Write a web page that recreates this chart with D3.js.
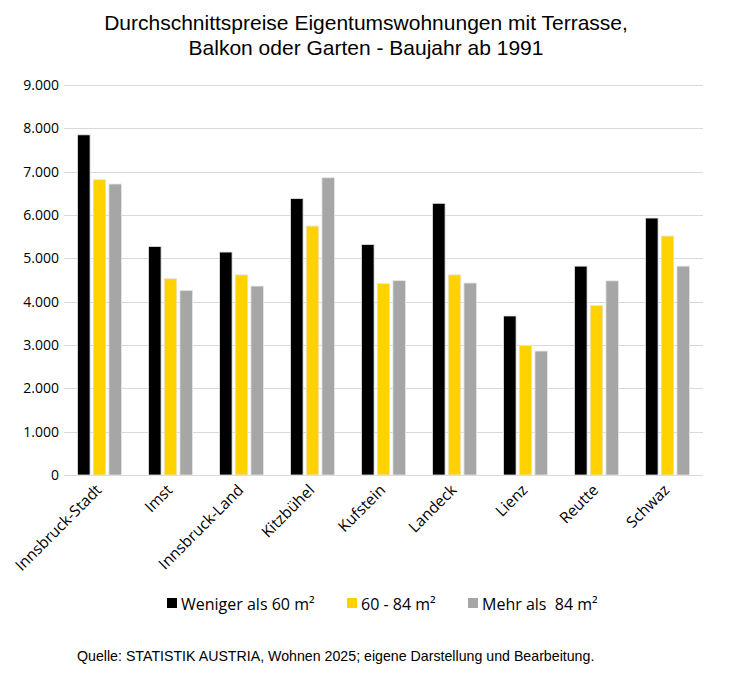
<!DOCTYPE html>
<html>
<head>
<meta charset="utf-8">
<script src="https://cdn.jsdelivr.net/npm/d3@7"></script>
<style>
    body { margin: 0; background: #fff; }
    .axis text { font-family: "Open Sans", sans-serif; fill: #000; }
    .axis path { display: none; }
</style>
</head>
<body>
<div id="chart"></div>
<script>
// Data
const districts = ["Innsbruck-Stadt", "Imst", "Innsbruck-Land", "Kitzbühel", "Kufstein", "Landeck", "Lienz", "Reutte", "Schwaz"];
const seriesNames = ["Weniger als 60 m²", "60 - 84 m²", "Mehr als  84 m²"];
const under60 = [7850, 5275, 5145, 6380, 5320, 6270, 3670, 4820, 5930];
const from60to84 = [6815, 4530, 4620, 5745, 4420, 4620, 2990, 3910, 5515];
const over84 = [6715, 4260, 4360, 6860, 4485, 4430, 2860, 4480, 4820];
const yTicks = [0, 1000, 2000, 3000, 4000, 5000, 6000, 7000, 8000, 9000];
const colours = ["#000000", "#ffd200", "#a6a6a6"];

const totalWidth = 734, totalHeight = 682;
const margin = {top: 85, right: 31, bottom: 207, left: 64};
const width = totalWidth - margin.left - margin.right;
const height = totalHeight - margin.top - margin.bottom;

const svg = d3.select("#chart").append("svg")
    .attr("width", totalWidth)
    .attr("height", totalHeight);

// Title
const title = svg.append("text")
    .attr("text-anchor", "middle")
    .style("font-family", "'Liberation Sans', Arial, sans-serif")
    .style("font-size", "21px");
title.append("tspan").attr("x", 366).attr("y", 30).text("Durchschnittspreise Eigentumswohnungen mit Terrasse,");
title.append("tspan").attr("x", 366).attr("y", 55).text("Balkon oder Garten - Baujahr ab 1991");

const g = svg.append("g")
    .attr("transform", `translate(${margin.left}, ${margin.top})`);

// Scales
const x0 = d3.scaleBand()
    .domain(districts)
    .range([0, width]);

const x1 = d3.scaleBand()
    .domain(seriesNames)
    .range([0, 44])
    .paddingInner(0.2);

const y = d3.scaleLinear()
    .domain([0, 9000])
    .range([height, 0]);

const colour = d3.scaleOrdinal()
    .domain(seriesNames)
    .range(colours);

// Gridlines
g.append("g")
    .selectAll("line")
    .data(yTicks)
    .join("line")
    .attr("x1", 0)
    .attr("x2", width)
    .attr("y1", d => Math.round(y(d)) + 0.5)
    .attr("y2", d => Math.round(y(d)) + 0.5)
    .attr("stroke", "#d9d9d9")
    .attr("stroke-width", 1);

// Y axis
const yAxis = d3.axisLeft(y)
    .tickValues(yTicks)
    .tickSize(0)
    .tickPadding(5)
    .tickFormat(d => d3.format(",")(d).replace(/,/g, "."));

g.append("g")
    .attr("class", "axis")
    .call(yAxis)
    .selectAll("text")
    .style("font-size", "14px");

// Bars
const rows = districts.map((d, i) => ({
    district: d,
    values: [under60[i], from60to84[i], over84[i]].map((v, j) => ({series: seriesNames[j], value: v}))
}));

const groups = g.selectAll(".group")
    .data(rows)
    .join("g")
    .attr("class", "group")
    .attr("transform", d => `translate(${x0(d.district) + x0.bandwidth() / 2 - 22}, 0)`);

groups.selectAll("rect")
    .data(d => d.values)
    .join("rect")
    .attr("x", d => x1(d.series))
    .attr("y", d => y(d.value))
    .attr("width", x1.bandwidth())
    .attr("height", d => y(0) - y(d.value))
    .attr("fill", d => colour(d.series))
    .attr("stroke", "#e6e6e6")
    .attr("stroke-width", 0.8);

// X axis labels
const xAxis = d3.axisBottom(x0).tickSize(0).tickPadding(0);
g.append("g")
    .attr("class", "axis")
    .attr("transform", `translate(0, ${height})`)
    .call(xAxis)
    .selectAll("text")
    .style("font-size", "15.5px")
    .attr("text-anchor", "end")
    .attr("dy", 0)
    .attr("transform", "translate(3, 16) rotate(-45)");

// Legend
const legendItems = [
    {name: seriesNames[0], x: 167},
    {name: seriesNames[1], x: 347},
    {name: seriesNames[2], x: 468}
];
const legend = svg.append("g").attr("class", "legend");

legend.selectAll("rect")
    .data(legendItems)
    .join("rect")
    .attr("x", d => d.x)
    .attr("y", 598)
    .attr("width", 10)
    .attr("height", 10)
    .attr("fill", d => colour(d.name));

legend.selectAll("text")
    .data(legendItems)
    .join("text")
    .attr("x", d => d.x + 14)
    .attr("y", 610)
    .style("font-family", "'Open Sans', sans-serif")
    .style("font-size", "16px")
    .style("white-space", "pre")
    .text(d => d.name);

// Source
svg.append("text")
    .attr("x", 77)
    .attr("y", 661)
    .style("font-family", "'Liberation Sans', Arial, sans-serif")
    .style("font-size", "14.2px")
    .text("Quelle: STATISTIK AUSTRIA, Wohnen 2025; eigene Darstellung und Bearbeitung.");
</script>
</body>
</html>
